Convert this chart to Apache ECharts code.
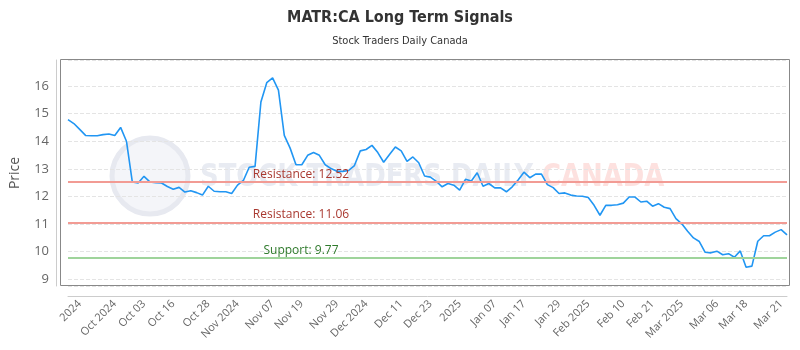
<!DOCTYPE html>
<html>
<head>
<meta charset="utf-8">
<script src="https://cdn.jsdelivr.net/npm/echarts@6/dist/echarts.min.js"></script>
</head>
<body style="margin:0">
<div id="main" style="width:800px;height:350px;"></div>
<script>
// daily closes, left to right
var prices = [
    14.78, 14.64, 14.43, 14.21, 14.20, 14.20, 14.24, 14.26, 14.21, 14.50,
    14.00, 12.53, 12.49, 12.73, 12.53, 12.50, 12.49, 12.36, 12.26, 12.33,
    12.16, 12.21, 12.14, 12.05, 12.37, 12.19, 12.17, 12.17, 12.11, 12.41,
    12.58, 13.06, 13.09, 15.42, 16.12, 16.29, 15.85, 14.21, 13.75, 13.15,
    13.15, 13.49, 13.59, 13.49, 13.15, 13.01, 12.91, 12.91, 12.94, 13.12,
    13.65, 13.70, 13.85, 13.59, 13.24, 13.52, 13.79, 13.65, 13.27, 13.43,
    13.22, 12.74, 12.70, 12.55, 12.35, 12.47, 12.41, 12.23, 12.62, 12.56,
    12.86, 12.37, 12.47, 12.31, 12.31, 12.17, 12.35, 12.60, 12.88, 12.68,
    12.81, 12.81, 12.43, 12.32, 12.11, 12.13, 12.05, 12.02, 12.01, 11.96,
    11.68, 11.32, 11.68, 11.68, 11.70, 11.76, 11.98, 11.98, 11.80, 11.83,
    11.65, 11.74, 11.61, 11.56, 11.20, 11.01, 10.74, 10.50, 10.37, 9.98,
    9.96, 10.02, 9.89, 9.93, 9.80, 10.03, 9.44, 9.48, 10.38, 10.58,
    10.58, 10.71, 10.80, 10.61
];

var tickLabels = ['2024', 'Oct 2024', 'Oct 03', 'Oct 16', 'Oct 28', 'Nov 2024', 'Nov 07',
    'Nov 19', 'Nov 29', 'Dec 2024', 'Dec 11', 'Dec 23', '2025', 'Jan 07', 'Jan 17', 'Jan 29',
    'Feb 2025', 'Feb 10', 'Feb 21', 'Mar 2025', 'Mar 06', 'Mar 18', 'Mar 21'];
var tickIndex = [2, 8, 13, 18, 24, 29, 35, 40, 46, 51, 57, 62, 67, 73, 78, 84, 89, 95, 100, 105, 111, 116, 122];

var resistance = [12.52, 11.06];
var support = [9.77];

var days = prices.map(function (p, i) { return String(i); });
var labelAt = {};
tickIndex.forEach(function (idx, k) { labelAt[idx] = tickLabels[k]; });

var levels = [];
resistance.forEach(function (v) {
    levels.push({
        yAxis: v, name: 'Resistance: ' + v,
        lineStyle: {color: '#f29b94'},
        label: {color: '#a9382f'}
    });
});
support.forEach(function (v) {
    levels.push({
        yAxis: v, name: 'Support: ' + v,
        lineStyle: {color: '#9fd49b'},
        label: {color: '#2f7a2c'}
    });
});

var narrow = '"DejaVu Sans Condensed", "Roboto Condensed", Roboto, sans-serif';

var myChart = echarts.init(document.getElementById('main'));

var option = {
    animation: false,
    title: {
        text: 'MATR:CA Long Term Signals',
        subtext: 'Stock Traders Daily Canada',
        left: 'center',
        top: 5,
        itemGap: 10,
        textStyle: {fontFamily: narrow, fontSize: 16, fontWeight: 'bold', color: '#333'},
        subtextStyle: {fontFamily: narrow, fontSize: 11, color: '#333'}
    },
    graphic: [
        // watermark
        {type: 'circle', z: 0, shape: {cx: 150, cy: 176, r: 38},
            style: {fill: '#f4f5f9', stroke: '#e7e9f0', lineWidth: 5}},
        {type: 'text', z: 0, x: 200, y: 178, scaleX: 0.9,
            style: {
                text: '{a|STOCK TRADERS DAILY }{b|CANADA}',
                verticalAlign: 'middle',
                rich: {
                    a: {fill: '#e8ebf2', font: 'bold 32px ' + narrow},
                    b: {fill: '#fde1df', font: 'bold 32px ' + narrow}
                }
            }},
        {type: 'rect', z: 10, shape: {x: 60.5, y: 59.5, width: 729, height: 226},
            style: {fill: 'none', stroke: '#888', lineWidth: 1}}
    ],
    grid: {left: 62, right: 13, top: 60, bottom: 64},
    xAxis: {
        type: 'category',
        data: days,
        boundaryGap: false,
        offset: 10,
        axisLine: {lineStyle: {color: '#ccc'}},
        axisTick: {show: false},
        splitLine: {show: false},
        axisLabel: {
            rotate: 45,
            margin: 6,
            color: '#666',
            fontFamily: 'Open Sans',
            fontSize: 11,
            interval: function (idx) { return labelAt.hasOwnProperty(idx); },
            formatter: function (v, idx) { return labelAt[idx] || ''; }
        }
    },
    yAxis: {
        type: 'value',
        min: 8.76,
        max: 16.94,
        splitNumber: 8,
        offset: 12,
        name: 'Price',
        nameLocation: 'middle',
        nameGap: 34,
        nameTextStyle: {color: '#555', fontFamily: 'Open Sans', fontSize: 14},
        axisLine: {show: true, lineStyle: {color: '#ccc'}},
        axisTick: {show: false},
        axisLabel: {color: '#666', fontFamily: 'Open Sans', fontSize: 13, margin: 7,
            showMinLabel: false, showMaxLabel: false},
        splitLine: {lineStyle: {color: '#e4e4e4', type: 'dashed'}}
    },
    series: [{
        type: 'line',
        data: prices,
        showSymbol: false,
        lineStyle: {color: '#2196f3', width: 1.6},
        z: 3,
        markLine: {
            silent: true,
            symbol: 'none',
            lineStyle: {width: 2, type: 'solid'},
            label: {
                position: 'insideMiddleTop',
                formatter: '{b}',
                fontFamily: 'Open Sans',
                fontSize: 12,
                distance: 2,
                padding: [0, 253, 0, 0]
            },
            data: levels
        }
    }]
};

myChart.setOption(option);
</script>
</body>
</html>
